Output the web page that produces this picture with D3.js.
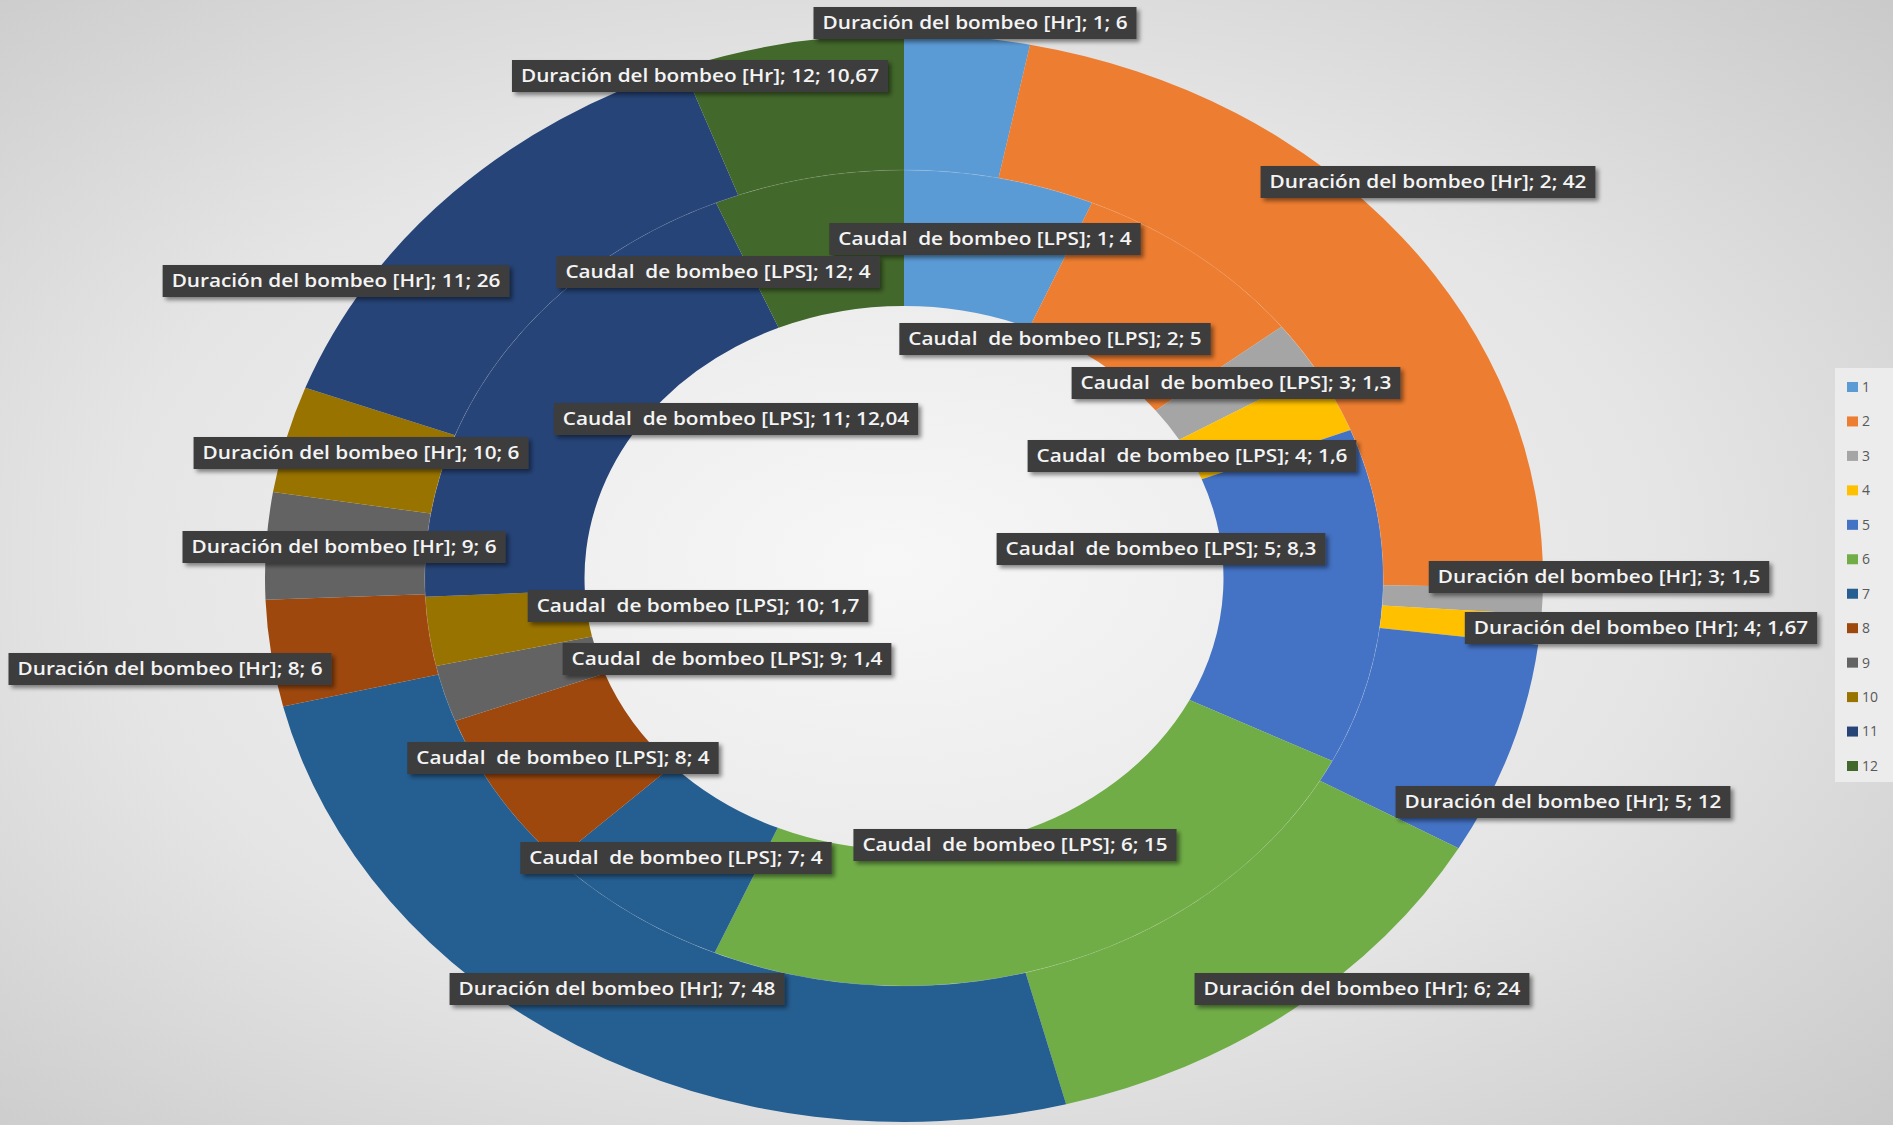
<!DOCTYPE html>
<html>
<head>
<meta charset="utf-8">
<script src="https://cdn.jsdelivr.net/npm/d3@7"></script>
<style>
  html, body { margin: 0; padding: 0; overflow: hidden; }
  svg { display: block; }
</style>
</head>
<body>
<svg id="chart"></svg>
<script>
const categories = ["1", "2", "3", "4", "5", "6", "7", "8", "9", "10", "11", "12"];
const caudal = [4, 5, 1.3, 1.6, 8.3, 15, 4, 4, 1.4, 1.7, 12.04, 4];
const duracion = [6, 42, 1.5, 1.67, 12, 24, 48, 6, 6, 6, 26, 10.67];
const colors = ["#5B9BD5", "#ED7D31", "#A5A5A5", "#FFC000", "#4472C4", "#70AD47",
                "#255E91", "#9E480E", "#636363", "#997300", "#264478", "#43682B"];

// label boxes were dragged by hand in the original, so their centres are layout
const labelPosInner = [[985, 239], [1055, 339], [1236, 383], [1192, 456], [1161, 549], [1015, 845],
                       [676, 858], [563, 758], [727, 659], [698, 606], [736, 419], [718, 272]];
const labelPosOuter = [[975, 23], [1428, 182], [1599, 577], [1641, 628], [1563, 802], [1362, 989],
                       [617, 989], [170, 669], [344, 547], [361, 453], [336, 281], [700, 76]];

const width = 1893, height = 1125;
const cx = 904, cy = 578, rx = 639, ry = 544;

const svg = d3.select("#chart").attr("width", width).attr("height", height);
const defs = svg.append("defs");

const bg = defs.append("radialGradient").attr("id", "bg")
  .attr("cx", "0.47").attr("cy", "0.5").attr("r", "0.75");
bg.append("stop").attr("offset", "0").attr("stop-color", "#f7f7f7");
bg.append("stop").attr("offset", "0.55").attr("stop-color", "#e5e5e5");
bg.append("stop").attr("offset", "1").attr("stop-color", "#c8c8c8");

defs.append("filter").attr("id", "shadow")
  .attr("x", "-10%").attr("y", "-30%").attr("width", "130%").attr("height", "180%")
  .append("feDropShadow")
  .attr("dx", 3).attr("dy", 3).attr("stdDeviation", 2)
  .attr("flood-color", "#000").attr("flood-opacity", 0.45);

svg.append("rect").attr("width", width).attr("height", height).attr("fill", "url(#bg)");

const pie = d3.pie().sort(null).value(d => d.value);
const toData = vals => vals.map((v, i) => ({ cat: categories[i], value: v, i }));

const arcInner = d3.arc().innerRadius(rx * 0.5).outerRadius(rx * 0.75);
const arcOuter = d3.arc().innerRadius(rx * 0.75).outerRadius(rx);

// the picture is stretched, so the rings are ellipses
const ring = svg.append("g")
  .attr("transform", `translate(${cx},${cy}) scale(1,${ry / rx})`);

ring.append("g").selectAll("path")
  .data(pie(toData(caudal)))
  .join("path")
  .attr("d", arcInner)
  .attr("fill", d => colors[d.data.i]);

ring.append("g").selectAll("path")
  .data(pie(toData(duracion)))
  .join("path")
  .attr("d", arcOuter)
  .attr("fill", d => colors[d.data.i]);

// faint seam between the two rings
ring.append("circle")
  .attr("r", rx * 0.75)
  .attr("fill", "none")
  .attr("stroke", "#fff")
  .attr("stroke-opacity", 0.12)
  .attr("stroke-width", 1);

const fmt = v => String(v).replace(".", ",");

const labels = [];
caudal.forEach((v, i) => labels.push({
  text: `Caudal  de bombeo [LPS]; ${categories[i]}; ${fmt(v)}`, pos: labelPosInner[i]
}));
duracion.forEach((v, i) => labels.push({
  text: `Duración del bombeo [Hr]; ${categories[i]}; ${fmt(v)}`, pos: labelPosOuter[i]
}));

const lg = svg.append("g").attr("class", "labels");
const items = lg.selectAll("g").data(labels).join("g")
  .attr("transform", d => `translate(${d.pos[0]},${d.pos[1]})`);

const boxes = items.append("rect")
  .attr("fill", "#3d3d3d")
  .attr("filter", "url(#shadow)");

const texts = items.append("text")
  .attr("text-anchor", "middle")
  .attr("dy", "0.36em")
  .attr("fill", "#f4f4f4")
  .style("font-family", "'Open Sans', sans-serif")
  .style("font-weight", 600)
  .style("font-size", "17.5px")
  .style("white-space", "pre")
  .text(d => d.text);

// fit text widths to the original (first outer label is ~305px wide)
const refLen = texts.filter((d, i) => i === 12).node().getComputedTextLength();
const k = 305 / refLen;
texts.each(function () {
  const len = this.getComputedTextLength() * k;
  d3.select(this).attr("textLength", len).attr("lengthAdjust", "spacingAndGlyphs");
  d3.select(this.parentNode).select("rect")
    .attr("x", -len / 2 - 9).attr("y", -16)
    .attr("width", len + 18).attr("height", 32);
});

// legend
const legend = svg.append("g").attr("transform", "translate(1835,368)");
legend.append("rect").attr("width", 58).attr("height", 414).attr("fill", "#ececec");

const ly = d3.scalePoint().domain(categories).range([19, 398]);
const li = legend.selectAll("g.item").data(categories).join("g")
  .attr("class", "item")
  .attr("transform", d => `translate(12,${ly(d)})`);
li.append("rect").attr("x", 0).attr("y", -5).attr("width", 11).attr("height", 10)
  .attr("fill", (d, i) => colors[i]);
li.append("text").attr("x", 15).attr("dy", "0.35em")
  .attr("fill", "#595959")
  .style("font-family", "'Open Sans', sans-serif")
  .style("font-size", "14px")
  .text(d => d);
</script>
</body>
</html>
